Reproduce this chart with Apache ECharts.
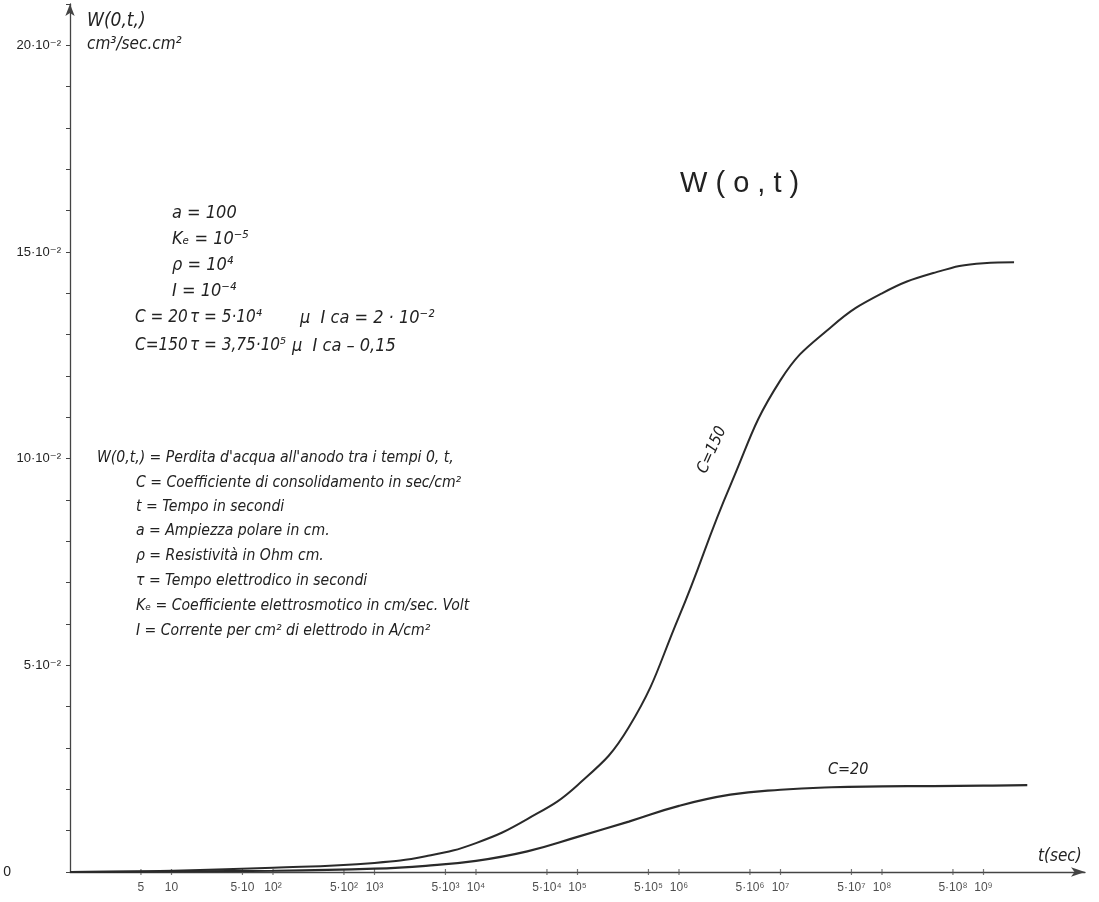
<!DOCTYPE html>
<html>
<head>
<meta charset="utf-8">
<script src="https://cdn.jsdelivr.net/npm/echarts@6/dist/echarts.min.js"></script>
<style>
html,body{margin:0;padding:0;background:#fff;}
#chart{width:1099px;height:902px;}
</style>
</head>
<body>
<div id="chart"></div>
<script>
// ---- data ----
const tC150 = [1, 10, 100, 1000, 3200, 10000, 32000, 100000, 320000, 1000000, 3200000, 10000000, 32000000, 100000000, 320000000, 1000000000, 2000000000];
const wC150 = [0, 0.0003, 0.0010, 0.0022, 0.0038, 0.0070, 0.0128, 0.0210, 0.0350, 0.0618, 0.0935, 0.1190, 0.1320, 0.1400, 0.1449, 0.1473, 0.1475];
const tC20 = [1, 100, 1000, 3200, 10000, 32000, 100000, 320000, 1000000, 3200000, 10000000, 32000000, 100000000, 320000000, 1000000000, 2700000000];
const wC20 = [0, 0.0003, 0.0008, 0.0015, 0.0027, 0.0050, 0.0085, 0.0122, 0.0160, 0.0187, 0.0199, 0.0205, 0.0207, 0.0208, 0.0209, 0.0210];

const xTickVals = [5, 10, 50, 100, 500, 1e3, 5e3, 1e4, 5e4, 1e5, 5e5, 1e6, 5e6, 1e7, 5e7, 1e8, 5e8, 1e9];
const xTickLabels = ['5', '10', '5·10', '10²', '5·10²', '10³', '5·10³', '10⁴', '5·10⁴', '10⁵', '5·10⁵', '10⁶', '5·10⁶', '10⁷', '5·10⁷', '10⁸', '5·10⁸', '10⁹'];
const yTickLabels = {0: '0', 5: '5·10⁻²', 10: '10·10⁻²', 15: '15·10⁻²', 20: '20·10⁻²'};

const INK = '#222';
const FONT = '"DejaVu Sans Condensed", "Liberation Sans Narrow", "DejaVu Sans", sans-serif';
const PLAIN = '"Liberation Sans", "DejaVu Sans", sans-serif';

function zip(a, b) { return a.map((v, i) => [v, b[i]]); }

const chart = echarts.init(document.getElementById('chart'));

function txt(x, y, s, size, extra) {
  return {
    type: 'text', x: x, y: y,
    style: Object.assign({
      text: s, fill: INK, fontFamily: FONT, fontStyle: 'italic',
      fontSize: size, verticalAlign: 'middle', align: 'left'
    }, extra || {})
  };
}

const option = {
  backgroundColor: '#fff',
  animation: false,
  grid: {left: 70, right: 14, top: 4, bottom: 30},
  xAxis: {
    type: 'log', logBase: 10, min: 1, max: 1e10,
    axisLine: {show: true, lineStyle: {color: '#444', width: 1.3}, symbol: ['none', 'arrow'], symbolSize: [7, 14]},
    axisTick: {show: false},
    axisLabel: {show: false},
    splitLine: {show: false}
  },
  yAxis: {
    type: 'value', min: 0, max: 0.21, interval: 0.01,
    axisLine: {show: true, lineStyle: {color: '#444', width: 1.3}, symbol: ['none', 'arrow'], symbolSize: [7, 12]},
    axisTick: {show: true, length: 4, lineStyle: {color: '#444'}},
    splitLine: {show: false},
    axisLabel: {
      color: INK, fontFamily: PLAIN, fontSize: 13, margin: 9,
      formatter: function (v) {
        const k = Math.round(v * 100);
        if (!(k in yTickLabels)) return '';
        if (k === 0) return '{z|0}';
        return yTickLabels[k];
      },
      rich: {z: {fontSize: 14, fontFamily: PLAIN, color: INK, padding: [0, 50, 0, 0]}}
    }
  },
  series: [
    {
      name: 'C=150', type: 'line', data: zip(tC150, wC150), smooth: 0.45,
      showSymbol: false, lineStyle: {color: '#2a2a2a', width: 2}
    },
    {
      name: 'C=20', type: 'line', data: zip(tC20, wC20), smooth: 0.45,
      showSymbol: false, lineStyle: {color: '#2a2a2a', width: 2.2}
    },
    {
      name: 'ticks', type: 'scatter', data: xTickVals.map(v => [v, 0]),
      symbol: 'rect', symbolSize: [1.2, 6], itemStyle: {color: '#555'},
      label: {
        show: true, position: 'bottom', distance: 7, color: INK,
        fontFamily: PLAIN, fontSize: 12,
        formatter: function (p) { return xTickLabels[p.dataIndex]; }
      },
      silent: true, z: 1
    }
  ],
  graphic: [
    txt(87, 21, 'W(0,t,)', 19),
    txt(87, 45, 'cm³/sec.cm²', 17),
    {type: 'text', x: 680, y: 184, style: {text: 'W ( o , t )', fill: INK, fontFamily: PLAIN, fontSize: 29, verticalAlign: 'middle'}},
    txt(172, 213, 'a = 100', 18),
    txt(172, 239, 'Kₑ = 10⁻⁵', 18),
    txt(172, 265, 'ρ = 10⁴', 18),
    txt(172, 291, 'I = 10⁻⁴', 18),
    txt(135, 318, 'C = 20', 17),
    txt(190, 318, 'τ = 5·10⁴', 17),
    txt(300, 318, 'μ  I ca = 2 · 10⁻²', 18),
    txt(135, 346, 'C=150', 17),
    txt(190, 346, 'τ = 3,75·10⁵', 17),
    txt(292, 346, 'μ  I ca – 0,15', 18),
    txt(97, 458, 'W(0,t,) = Perdita d\'acqua all\'anodo tra i tempi 0, t,', 15.6),
    txt(136, 483, 'C = Coefficiente di consolidamento in sec/cm²', 15.6),
    txt(136, 507, 't = Tempo in secondi', 15.6),
    txt(136, 531, 'a = Ampiezza polare in cm.', 15.6),
    txt(136, 556, 'ρ = Resistività in Ohm cm.', 15.6),
    txt(136, 581, 'τ = Tempo elettrodico in secondi', 15.6),
    txt(136, 606, 'Kₑ = Coefficiente elettrosmotico in cm/sec. Volt', 15.6),
    txt(136, 631, 'I = Corrente per cm² di elettrodo in A/cm²', 15.6),
    txt(1038, 857, 't(sec)', 17),
    txt(828, 770, 'C=20', 16),
    {type: 'text', x: 712, y: 450, rotation: 1.15,
      style: {text: 'C=150', fill: INK, fontFamily: FONT, fontStyle: 'italic', fontSize: 16, align: 'center', verticalAlign: 'middle'}}
  ]
};
chart.setOption(option);
</script>
</body>
</html>
